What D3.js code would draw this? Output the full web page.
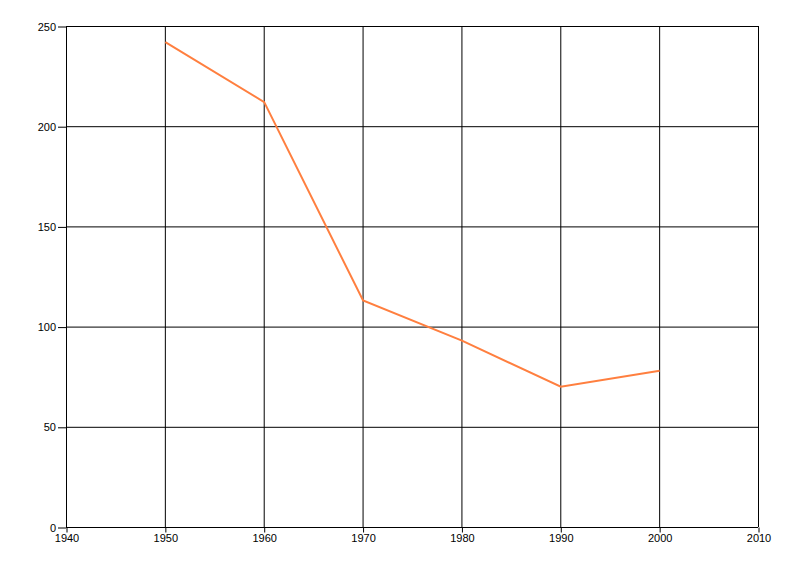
<!DOCTYPE html>
<html>
<head>
<meta charset="utf-8">
<script src="https://cdn.jsdelivr.net/npm/d3@7"></script>
<style>
  body { margin: 0; background: #fff; }
  svg { display: block; font-family: "Liberation Sans", Arial, sans-serif; }
</style>
</head>
<body>
<div id="container"></div>
<script>
// Chart dimensions and margins
const width = 800;
const height = 576;
const marginTop = 26;
const marginRight = 42;
const marginBottom = 49;
const marginLeft = 66;

// Data
const years = [1950, 1960, 1970, 1980, 1990, 2000];
const values = [242, 212, 113, 93, 70, 78];
const xTicks = [1940, 1950, 1960, 1970, 1980, 1990, 2000, 2010];
const yTicks = [0, 50, 100, 150, 200, 250];

const data = years.map((year, i) => ({ year, value: values[i] }));

const x = d3.scaleLinear()
    .domain([1940, 2010])
    .range([marginLeft, width - marginRight]);

const y = d3.scaleLinear()
    .domain([0, 250])
    .range([height - marginBottom, marginTop]);

const svg = d3.select("#container").append("svg")
    .attr("width", width)
    .attr("height", height)
    .attr("viewBox", [0, 0, width, height]);

// Grid lines
svg.append("g")
    .selectAll("line")
    .data(xTicks)
    .join("line")
    .attr("x1", d => x(d) + 0.5)
    .attr("x2", d => x(d) + 0.5)
    .attr("y1", marginTop)
    .attr("y2", height - marginBottom)
    .attr("stroke", "#000")
    .attr("stroke-width", 1);

svg.append("g")
    .selectAll("line")
    .data(yTicks)
    .join("line")
    .attr("x1", marginLeft)
    .attr("x2", width - marginRight)
    .attr("y1", d => y(d) + 0.5)
    .attr("y2", d => y(d) + 0.5)
    .attr("stroke", "#000")
    .attr("stroke-width", 1);

// Axes
svg.append("g")
    .attr("transform", `translate(0.5,${height - marginBottom + 0.5})`)
    .call(d3.axisBottom(x).tickValues(xTicks).tickFormat(d3.format("d")).tickSize(5).tickPadding(2))
    .call(g => g.select(".domain").remove())
    .call(g => g.selectAll(".tick line").attr("stroke", "#000"))
    .call(g => g.selectAll(".tick text").attr("fill", "#000").style("font-size", "11px"));

svg.append("g")
    .attr("transform", `translate(${marginLeft},0.5)`)
    .call(d3.axisLeft(y).tickValues(yTicks).tickSize(8).tickPadding(2))
    .call(g => g.select(".domain").remove())
    .call(g => g.selectAll(".tick line").attr("stroke", "#000"))
    .call(g => g.selectAll(".tick text").attr("fill", "#000").style("font-size", "11px"));

// The series line
const line = d3.line()
    .x(d => x(d.year) + 0.5)
    .y(d => y(d.value));

svg.append("path")
    .datum(data)
    .attr("fill", "none")
    .attr("stroke", "#ff7f3f")
    .attr("stroke-width", 2)
    .attr("d", line);
</script>
</body>
</html>
